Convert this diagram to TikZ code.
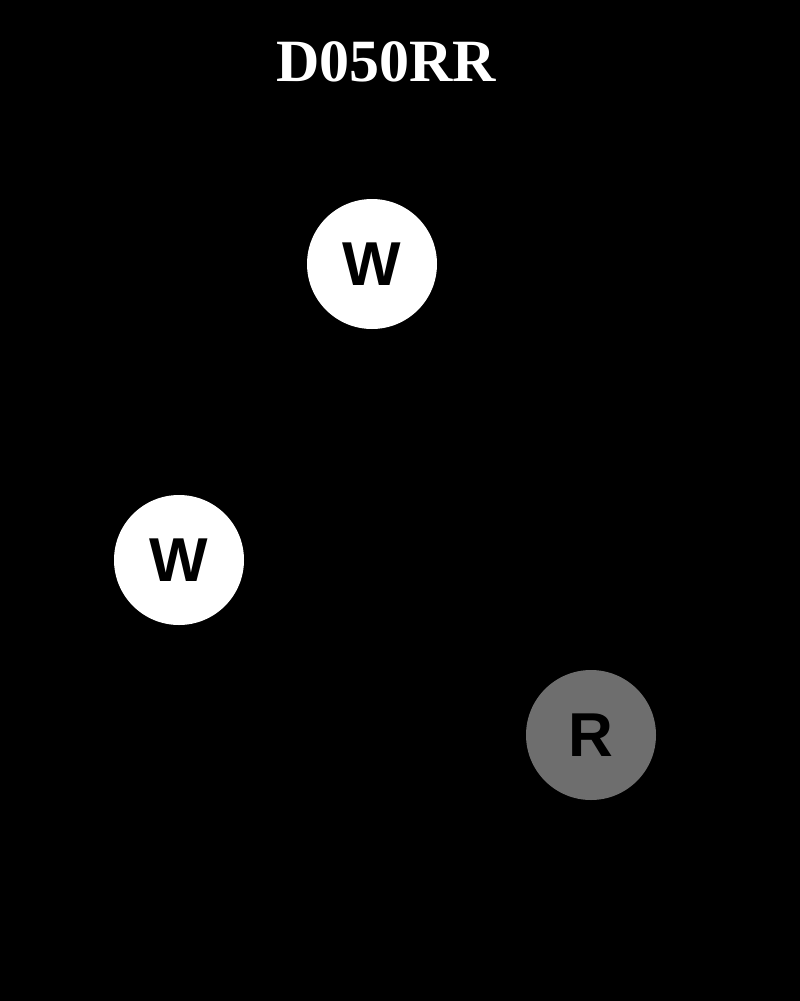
\documentclass[tikz,border=0pt]{standalone}
\usepackage{fontspec}
\setmainfont{Liberation Serif}
\newfontfamily\discfont{Liberation Sans}
\usepackage{xcolor}
\definecolor{discgray}{gray}{0.43}
\tikzset{
  disc/.style={circle,minimum size=130pt,inner sep=0pt,font=\discfont\fontsize{62}{62}\bfseries},
}

\begin{document}
\begin{tikzpicture}[x=1pt,y=-1pt]
            \fill[black] (0,0) rectangle (800,1001);
            \useasboundingbox (0,0) rectangle (800,1001);
            \node[text=white,font=\fontsize{60}{60}\bfseries] (title) at (386,62){D050RR};
            \node[disc,fill=white,text=black] (wtop) at (372,264){W};
            \node[disc,fill=white,text=black] (wleft) at (179,560){W};
            \node[disc,fill=discgray,text=black] (rdisc) at (591,735){R};
        \end{tikzpicture}
\end{document}
